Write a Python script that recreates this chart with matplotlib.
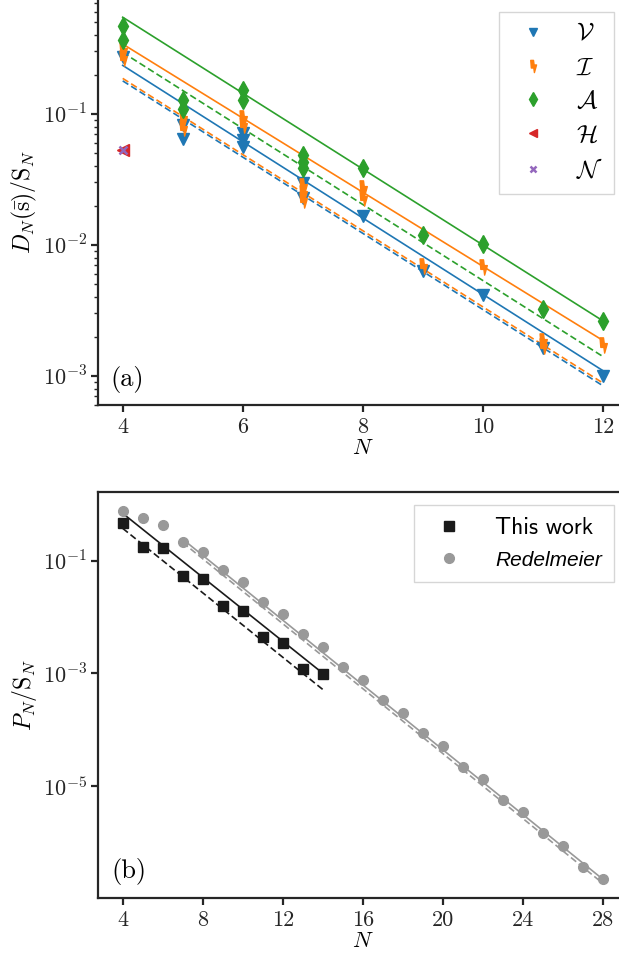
import numpy as np
import matplotlib
matplotlib.use('Agg')
import matplotlib.pyplot as plt
from matplotlib.path import Path

# ---- panel (a): D_N(s)/S_N per class ----
V_N = [4, 5, 5, 6, 6, 6, 7, 7, 8, 9, 10, 11, 12]
V_val = [0.27, 0.0828, 0.0648, 0.072, 0.0637, 0.0562, 0.0299, 0.0229,
         0.0165, 0.0063, 0.00412, 0.00164, 0.00100]

I_N = [4, 4, 5, 5, 6, 6, 7, 7, 7, 8, 8, 9, 10, 11, 11, 12]
I_val = [0.31, 0.269, 0.0937, 0.0786, 0.0937, 0.0828, 0.0284, 0.0251,
         0.0222, 0.0273, 0.0229, 0.00687, 0.00679, 0.00184, 0.00168, 0.00173]

A_N = [4, 4, 5, 5, 6, 6, 7, 7, 7, 8, 9, 10, 11, 12]
A_val = [0.472, 0.369, 0.128, 0.110, 0.153, 0.128, 0.0489, 0.0433,
         0.0389, 0.0387, 0.0120, 0.0102, 0.00324, 0.00261]

H_N = [4]
H_val = [0.0527]
Nc_N = [4]
Nc_val = [0.0527]

# fitted lines, values at N=4 and N=12
fit_N = [4, 12]
V_fit = [0.235, 0.0011]
V_fit2 = [0.179, 0.000843]
I_fit = [0.342, 0.00187]
I_fit2 = [0.187, 0.000885]
A_fit = [0.548, 0.00264]
A_fit2 = [0.295, 0.00141]

# ---- panel (b): P_N/S_N ----
work_N = list(range(4, 15))
work_val = [0.458, 0.171, 0.165, 0.0537, 0.0463, 0.01574, 0.01283,
            0.00443, 0.00347, 0.00118, 0.00095]
redel_N = list(range(4, 29))
redel_val = [0.767, 0.562, 0.428, 0.216, 0.140, 0.0678, 0.0409, 0.0186,
             0.0112, 0.00494, 0.00294, 0.00127, 7.55e-4, 3.33e-4, 1.98e-4,
             8.5e-5, 5.14e-5, 2.17e-5, 1.31e-5, 5.57e-6, 3.37e-6, 1.43e-6,
             8.6e-7, 3.64e-7, 2.2e-7]

work_fit_N = [4, 14]
work_fit = [0.689, 1.0e-3]
work_fit2 = [0.373, 5.15e-4]
redel_fit_N = [7, 28]
redel_fit = [0.24, 2.2e-7]
redel_fit2 = [0.209, 1.86e-7]

EDGE = '0.15'
plt.rcParams.update({
    'font.family': 'serif',
    'font.serif': ['cmr10'],
    'mathtext.fontset': 'cm',
    'axes.unicode_minus': False,
    'font.size': 16,
    'axes.edgecolor': EDGE,
    'axes.linewidth': 1.6,
    'xtick.color': EDGE,
    'ytick.color': EDGE,
    'xtick.major.width': 1.6,
    'ytick.major.width': 1.6,
    'xtick.major.size': 5,
    'ytick.major.size': 5,
    'ytick.minor.width': 1.0,
    'ytick.minor.size': 3,
    'xtick.major.pad': 4,
    'ytick.major.pad': 3,
})

# lightning-bolt marker for class I
bolt = Path([(-0.45, 1.0), (0.0, 1.0), (0.1, 0.25), (0.5, 0.25),
             (0.15, -1.0), (0.05, -0.25), (-0.35, -0.25), (-0.45, 1.0)],
            [Path.MOVETO] + [Path.LINETO] * 6 + [Path.CLOSEPOLY])

C_V, C_I, C_A, C_H, C_N = '#1f77b4', '#ff7f0e', '#2ca02c', '#d62728', '#9467bd'

W, H = 619, 961
fig = plt.figure(figsize=(W / 100, H / 100), dpi=100)
x0, x1 = 98.3, 626.7  # axes left/right in px (right edge lies off the crop)
left = x0 / W
width = (x1 - x0) / W
ax1 = fig.add_axes([left, 1 - 405 / H, width, 406 / H])
ax2 = fig.add_axes([left, 1 - 897.7 / H, width, 405.7 / H])
leg_x = (614 - x0) / (x1 - x0)


def frame(ax, top=False):
    """Draw only the needed spines as plain lines."""
    ax.set_frame_on(False)
    kw = dict(transform=ax.transAxes, color=EDGE, lw=1.6, clip_on=False,
              solid_capstyle='projecting')
    ax.plot([0, 0], [0, 1], **kw)
    ax.plot([0, 1], [0, 0], **kw)
    if top:
        ax.plot([0, 1], [1, 1], **kw)


# ---- top panel ----
for vals, c in [(V_fit, C_V), (I_fit, C_I), (A_fit, C_A)]:
    ax1.plot(fit_N, vals, '-', color=c, lw=1.2)
for vals, c in [(V_fit2, C_V), (I_fit2, C_I), (A_fit2, C_A)]:
    ax1.plot(fit_N, vals, '--', color=c, lw=1.2, dashes=(4, 2))

ax1.plot(V_N, V_val, 'v', color=C_V, ms=8, ls='none', label=r'$\mathcal{V}$')
ax1.plot(I_N, I_val, marker=bolt, color=C_I, ms=11, ls='none', label=r'$\mathcal{I}$')
ax1.plot(A_N, A_val, 'd', color=C_A, ms=9, ls='none', label=r'$\mathcal{A}$')
ax1.plot(H_N, H_val, '<', color=C_H, ms=8, ls='none', label=r'$\mathcal{H}$')
ax1.plot(Nc_N, Nc_val, 'x', color=C_N, ms=6, mew=1.8, ls='none', label=r'$\mathcal{N}$')

ax1.set_yscale('log')
ax1.set_xlim(4 - (122.7 - x0) / 60, 4 + (x1 - 122.7) / 60)
ax1.set_ylim(6.0e-4, 0.755)
ax1.set_xticks([4, 6, 8, 10, 12])
ax1.set_yticks([1e-3, 1e-2, 1e-1])
ax1.set_yticklabels([r'$10^{-3}$', r'$10^{-2}$', r'$10^{-1}$'])
ax1.set_xlabel(r'$N$', labelpad=1)
ax1.set_ylabel(r'$D_N(\bar{\mathrm{s}})/\mathrm{S}_N$', labelpad=3, fontsize=17)
ax1.text(11.7 / (x1 - x0), 0.063, '(a)', transform=ax1.transAxes,
         fontsize=19, va='center')
leg1 = ax1.legend(loc='upper right', bbox_to_anchor=(leg_x, 0.968), borderaxespad=0,
                  fancybox=False, edgecolor='0.8', handletextpad=0.8,
                  labelspacing=0.45, borderpad=0.45, handlelength=1.8, fontsize=18,
                  markerscale=0.8)
leg1.get_frame().set_linewidth(1.0)
frame(ax1)

# ---- bottom panel ----
ax2.plot(work_fit_N, work_fit, '-', color='#1a1a1a', lw=1.2)
ax2.plot(work_fit_N, work_fit2, '--', color='#1a1a1a', lw=1.2, dashes=(4, 2))
ax2.plot(redel_fit_N, redel_fit, '-', color='#999999', lw=1.2)
ax2.plot(redel_fit_N, redel_fit2, '--', color='#999999', lw=1.2, dashes=(4, 2))
ax2.plot(work_N, work_val, 's', color='#1a1a1a', ms=7, ls='none', label='This work')
ax2.plot(redel_N, redel_val, 'o', color='#999999', ms=7, ls='none', label='Redelmeier')

ax2.set_yscale('log')
ax2.set_xlim(4 - (122.7 - x0) / 20, 4 + (x1 - 122.7) / 20)
ax2.set_ylim(1.03e-7, 1.65)
ax2.set_xticks([4, 8, 12, 16, 20, 24, 28])
ax2.set_yticks([1e-5, 1e-3, 1e-1])
ax2.set_yticklabels([r'$10^{-5}$', r'$10^{-3}$', r'$10^{-1}$'])
ax2.yaxis.set_minor_locator(matplotlib.ticker.NullLocator())
ax2.set_xlabel(r'$N$', labelpad=1)
ax2.set_ylabel(r'$P_N/\mathrm{S}_N$', labelpad=3, fontsize=17)
ax2.text(13.4 / (x1 - x0), 0.064, '(b)', transform=ax2.transAxes,
         fontsize=19, va='center')
leg2 = ax2.legend(loc='upper right', bbox_to_anchor=(leg_x, 0.968), borderaxespad=0,
                  fancybox=False, edgecolor='0.8', handletextpad=0.98,
                  labelspacing=0.45, borderpad=0.5, handlelength=1.96, fontsize=17)
leg2.get_frame().set_linewidth(1.0)
texts = leg2.get_texts()
texts[0].set_family('cmss10')
texts[1].set_family('Liberation Sans')
texts[1].set_style('italic')
texts[1].set_fontsize(15)
frame(ax2, top=True)

fig.savefig('out.png', dpi=100)
